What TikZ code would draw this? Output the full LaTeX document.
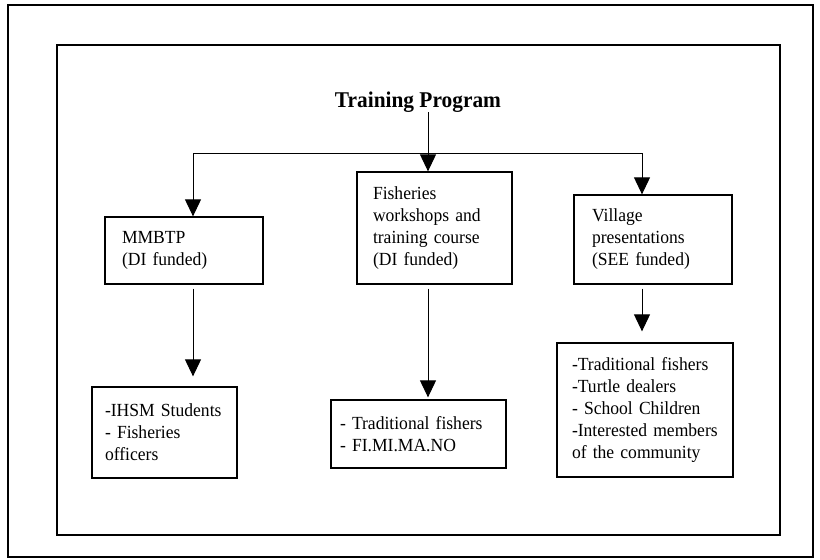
\documentclass[tikz,border=0pt]{standalone}
\usepackage{fontspec}
\setmainfont{Liberation Serif}[FakeStretch=0.95]
\usetikzlibrary{positioning,arrows.meta}

\begin{document}
\begin{tikzpicture}[x=1pt,y=-1pt,>={Triangle[length=17pt,width=16pt]},
  box/.style={draw,line width=1.3pt,rectangle,align=left,inner ysep=0pt,
    font=\fontsize{18.5}{22}\selectfont},
  link/.style={->,line width=1pt}]
\useasboundingbox (0,0) rectangle (820,560);
% frames
\draw[line width=2.2pt] (8,5) rectangle (813,557);
\draw[line width=1.5pt] (57,45) rectangle (780,535);

\node[font=\bfseries\fontsize{22.5}{26}\selectfont,inner sep=0pt,anchor=base] (title) at (418,107) {Training Program};

\node[box,inner xsep=17pt,text width=124pt,minimum height=67pt] (mmbtp) at (184,250.5) {MMBTP\\(DI funded)};
\node[box,inner xsep=16pt,text width=123pt,minimum height=112pt] (fish) at (434.5,228) {Fisheries\\workshops and\\training course\\(DI funded)};
\node[box,inner xsep=18pt,text width=122pt,minimum height=89pt] (vill) at (653,239.5) {Village\\presentations\\(SEE funded)};

\node[box,inner xsep=13pt,text width=119pt,minimum height=91pt] (stud) at (164.5,432.5) {-IHSM Students\\- Fisheries\\officers};
\node[box,inner xsep=9pt,text width=157pt,minimum height=68pt] (fishers) at (418.5,434) {- Traditional fishers\\- FI.MI.MA.NO};
\node[box,inner xsep=15pt,text width=146pt,minimum height=134pt] (comm) at (645,410) {-Traditional fishers\\-Turtle dealers\\- School Children\\-Interested members\\of the community};

\coordinate (split) at (428,153);
\coordinate (lbr) at (193,153);
\coordinate (rbr) at (642,153);

\path[link] (title.south -| split) edge (fish.north -| split)
  (lbr) edge (lbr |- mmbtp.north)
  (rbr) edge (rbr |- vill.north);
\draw[line width=1pt] (lbr) -- (rbr);

\path[link] (mmbtp.south -| lbr) edge[shorten <=4pt,shorten >=10pt] (stud.north -| lbr)
  (fish.south -| split) edge[shorten <=4pt,shorten >=2pt] (fishers.north -| split)
  (vill.south -| rbr) edge[shorten <=4pt,shorten >=11pt] (comm.north -| rbr);
\end{tikzpicture}
\end{document}
